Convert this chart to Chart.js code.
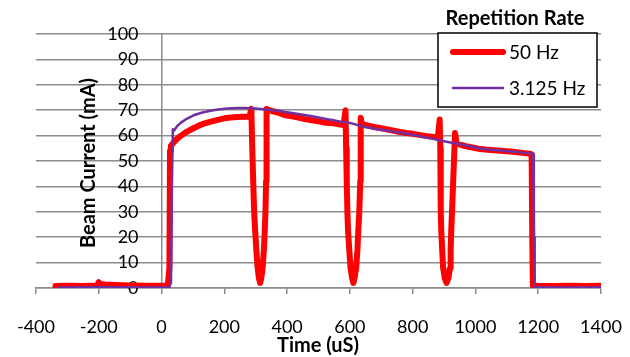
<!DOCTYPE html>
<html lang="en">
<head>
  <meta charset="UTF-8"/>
  <title>Beam Current vs Time</title>
  <script src="https://cdn.jsdelivr.net/npm/chart.js"></script>
  <style>
    html, body { margin: 0; padding: 0; background: #fff; }
    #wrap { width: 630px; height: 357px; }
  </style>
</head>
<body>
  <div id="wrap"><canvas id="chart"></canvas></div>

  <script>
    // series: time in uS, current in mA
    const seriesNames = ['50 Hz', '3.125 Hz'];
    const legendTitle = 'Repetition Rate';

    const redTime = [-338, -300, -250, -205, -200, -196, -180, -150, -100, -50, 0, 20, 25, 27, 30, 40, 50, 60, 80, 100,
      120, 140, 160, 180, 200, 220, 240, 260, 280, 286,
      289, 292, 295, 298, 302, 306, 310, 314, 318, 322, 326, 329, 331, 333, 334, 335, 342, 355, 370, 385, 400, 420,
      440, 460, 480, 500, 520, 540, 560, 580, 586,
      588, 590, 592, 594, 598, 602, 607, 611, 615, 620, 624, 627, 630, 633, 634, 635, 637, 645, 660, 680, 700, 720,
      740, 760, 780, 800, 820, 840, 860, 880, 886,
      888, 889, 890, 891, 894, 897, 902, 908, 914, 919, 921, 923, 926, 930, 934, 935, 940, 955, 970, 990, 1010,
      1030, 1060, 1090, 1120, 1150, 1170, 1179, 1181, 1183, 1200, 1250, 1300, 1350, 1405];
    const redCurrent = [0.8, 0.9, 0.8, 1.0, 2.3, 1.6, 1.4, 1.2, 1.0, 0.9, 0.9, 1.0, 8, 54, 56, 57.5, 58.8, 59.8, 61.5, 62.8,
      64, 64.9, 65.6, 66.2, 66.8, 67.1, 67.3, 67.4, 67.5, 70.5,
      55, 42, 30, 23, 15, 8, 4, 2, 4, 8, 15, 23, 30, 42, 55, 70.5, 70, 69.6, 69.1, 68.4, 67.9, 67.5,
      67, 66.4, 66, 65.6, 65.1, 65, 64.6, 64.2, 70,
      55, 42, 30, 23, 15, 8, 4, 2, 4, 8, 15, 23, 30, 42, 55, 67, 65, 64.3, 63.9, 63.3, 62.9, 62.4,
      61.9, 61.4, 61, 60.7, 60.3, 59.9, 59.6, 59.2, 66.3,
      55, 42, 30, 23, 15, 8, 4, 2, 4, 8, 15, 23, 32, 45, 58, 61, 57, 56.3, 55.8, 55.3, 54.8,
      54.5, 54.2, 53.9, 53.6, 53.2, 52.9, 52.7, 20, 1, 0.9, 0.8, 0.9, 0.8, 0.9];

    const purpleTime = [-332, -250, -200, -150, -100, -50, 0, 25, 30, 33, 36, 40, 50, 61, 80, 102, 130, 156, 180, 210,
      240, 262, 290, 316, 340, 370, 395, 421, 450, 475, 500, 529, 550, 571, 600, 644, 700, 753, 800, 858,
      900, 963, 1018, 1060, 1113, 1150, 1170, 1184, 1186, 1188, 1220, 1300, 1400];
    const purpleCurrent = [0.2, 0.3, 0.4, 0.3, 0.3, 0.2, 0.3, 0.4, 2, 40, 62.5, 62, 63.8, 65, 66.6, 68, 69.1, 69.8, 70.3, 70.7,
      70.9, 70.9, 70.8, 70.5, 70.2, 69.8, 69.3, 68.8, 68.2, 67.7, 67.1, 66.4, 66, 65.5, 65, 63.5, 62.3, 61.3, 60.3, 58.9,
      57.8, 56.3, 54.8, 54.3, 53.7, 53.3, 53, 52.8, 20, 0.3, 0.3, 0.2, 0.3];

    const xTicks = { min: -400, max: 1400, step: 200 };
    const yTicks = { min: 0, max: 100, step: 10 };

    const RED = '#ff0000';
    const PURPLE = '#7030a0';
    const GRID = '#8c8c8c';
    const Y_LABEL_GAP = 23;

    const toPoints = (xs, ys) => xs.map((x, i) => ({ x, y: ys[i] }));

    Chart.defaults.font.family = 'Lato, "Open Sans", sans-serif';
    Chart.defaults.color = '#000';

    // y axis sits at x = 0; its tick labels ignore padding there, so push them left
    class ShiftedLinearScale extends Chart.LinearScale {
      drawLabels(area) {
        this.ctx.save();
        this.ctx.translate(-Y_LABEL_GAP, 0);
        super.drawLabels(area);
        this.ctx.restore();
      }
    }
    ShiftedLinearScale.id = 'shiftedLinear';
    ShiftedLinearScale.defaults = Chart.LinearScale.defaults;
    Chart.register(ShiftedLinearScale);

    // axis titles and the boxed legend, drawn after the chart
    const decor = {
      id: 'decor',
      afterDraw(chart) {
        const { ctx } = chart;
        const ds = chart.data.datasets;
        ctx.save();
        ctx.fillStyle = '#000';
        ctx.textAlign = 'center';
        ctx.textBaseline = 'middle';
        ctx.font = 'bold 20px Lato';
        ctx.fillText('Time (uS)', 318, 346);
        ctx.save();
        ctx.translate(89, 163);
        ctx.rotate(-Math.PI / 2);
        ctx.fillText('Beam Current (mA)', 0, 0);
        ctx.restore();

        // legend
        const bx = 438, by = 33, bw = 159, bh = 74;
        ctx.fillText(legendTitle, 515, 19);
        ctx.fillStyle = '#fff';
        ctx.fillRect(bx, by, bw, bh);
        ctx.strokeStyle = '#000';
        ctx.lineWidth = 1.5;
        ctx.strokeRect(bx, by, bw, bh);
        const rows = [52, 88];
        ds.forEach((d, i) => {
          ctx.beginPath();
          ctx.strokeStyle = d.borderColor;
          ctx.lineWidth = d.borderWidth;
          ctx.lineCap = 'round';
          ctx.moveTo(453, rows[i]);
          ctx.lineTo(503, rows[i]);
          ctx.stroke();
          ctx.fillStyle = '#000';
          ctx.font = '19px Lato';
          ctx.textAlign = 'left';
          ctx.fillText(d.label, 509, rows[i] + 1);
        });
        ctx.restore();
      }
    };

    new Chart(document.getElementById('chart'), {
      type: 'line',
      data: {
        datasets: [{
          label: seriesNames[0],
          data: toPoints(redTime, redCurrent),
          borderColor: RED,
          borderWidth: 6,
          borderJoinStyle: 'round',
          borderCapStyle: 'round',
          pointRadius: 0,
          order: 2
        }, {
          label: seriesNames[1],
          data: toPoints(purpleTime, purpleCurrent),
          borderColor: PURPLE,
          borderWidth: 2.5,
          borderJoinStyle: 'round',
          pointRadius: 0,
          order: 1
        }]
      },
      options: {
        responsive: true,
        maintainAspectRatio: false,
        animation: false,
        layout: { padding: { left: 36, right: 29, top: 34, bottom: 0 } },
        plugins: { legend: { display: false }, tooltip: { enabled: false } },
        scales: {
          x: {
            type: 'linear',
            min: xTicks.min,
            max: xTicks.max,
            ticks: { stepSize: xTicks.step, padding: 22, font: { size: 18 }, maxRotation: 0, callback: v => String(v) },
            grid: { drawOnChartArea: false, drawTicks: true, tickLength: 6, color: GRID, lineWidth: 1.5 },
            border: { color: GRID, width: 1.5 },
            afterFit: s => { s.height = 69; s.paddingLeft = 0; s.paddingRight = 0; }
          },
          y: {
            type: 'shiftedLinear',
            position: { x: 0 },
            min: yTicks.min,
            max: yTicks.max,
            ticks: { stepSize: yTicks.step, padding: 0, font: { size: 18 } },
            grid: { color: GRID, lineWidth: 1.5, drawTicks: false },
            border: { color: GRID, width: 1.5 }
          }
        }
      },
      plugins: [decor]
    });
  </script>
</body>
</html>
